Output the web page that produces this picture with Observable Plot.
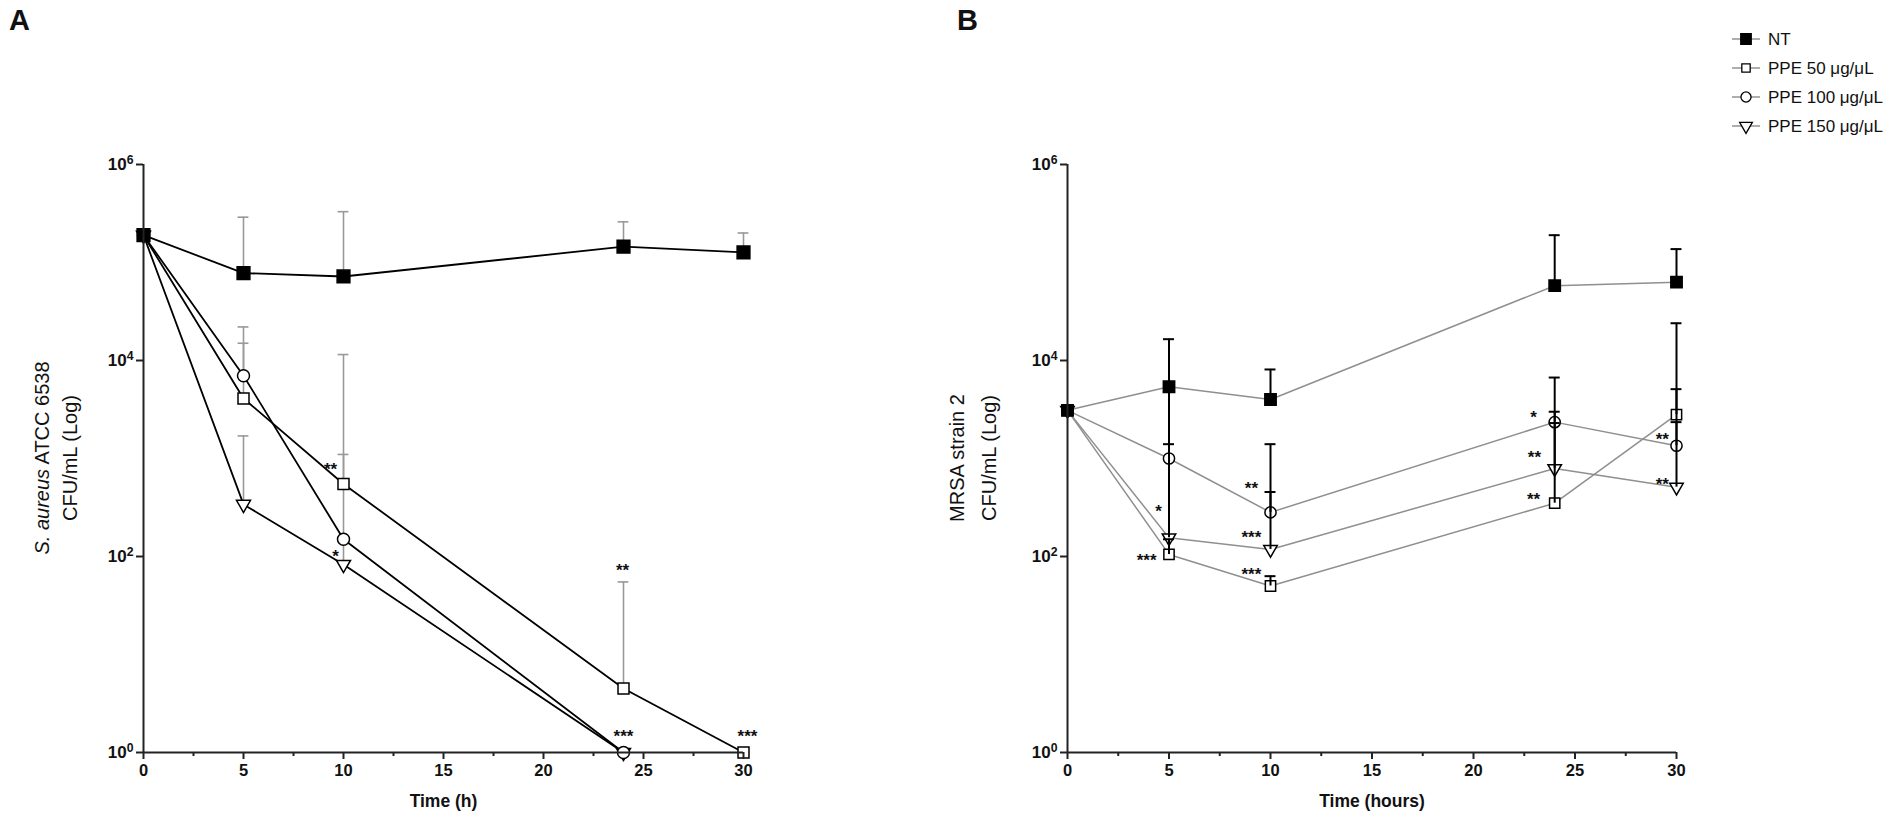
<!DOCTYPE html>
<html>
<head>
<meta charset="utf-8">
<script src="https://cdn.jsdelivr.net/npm/d3@7"></script>
<script src="https://cdn.jsdelivr.net/npm/@observablehq/plot@0.6"></script>
<style>
  html, body { margin: 0; padding: 0; background: #fff; }
  #wrap { position: relative; width: 1901px; height: 822px; overflow: hidden; font-family: "Liberation Sans", Arial, sans-serif; }
  .panel { position: absolute; top: 0; }
  .plabel { position: absolute; font-weight: bold; font-size: 29px; color: #111; }
  #legend { position: absolute; left: 1720px; top: 20px; }
</style>
</head>
<body>
<div id="wrap">
  <div class="plabel" style="left:9px;top:4px">A</div>
  <div class="plabel" style="left:957px;top:4px">B</div>
  <div class="panel" id="pA" style="left:0px"></div>
  <div class="panel" id="pB" style="left:920px"></div>
  <div id="legend"></div>
</div>
<script>
// ---------------- DATA ----------------
const seriesNames = ["NT", "PPE 50 μg/μL", "PPE 100 μg/μL", "PPE 150 μg/μL"];
const hours = [0, 5, 10, 24, 30];

// Panel A: S. aureus ATCC 6538 (CFU/mL)
const ntA        = [1.9e5, 7.8e4, 7.2e4, 1.45e5, 1.27e5];
const ntA_up     = [null, 2.9e5, 3.3e5, 2.6e5, 2.0e5];
const ppe50A     = [1.9e5, 4.1e3, 550, 4.5, 1];
const ppe50A_up  = [null, 1.5e4, 1.1e3, 55, null];
const ppe100A    = [1.9e5, 7.0e3, 150, 1, null];
const ppe100A_up = [null, 2.2e4, 1.15e4, null, null];
const ppe150A    = [1.9e5, 340, 83, 1, null];
const ppe150A_up = [null, 1.7e3, 150, null, null];

// Panel B: MRSA strain 2 (CFU/mL)
const ntB        = [3.1e3, 5.4e3, 4.0e3, 5.8e4, 6.3e4];
const ntB_up     = [null, 1.65e4, 8.1e3, 1.9e5, 1.37e5];
const ppe50B     = [3.1e3, 105, 50, 350, 2.8e3];
const ppe50B_up  = [null, 150, 63, 2.3e3, 2.4e4];
const ppe100B    = [3.1e3, 1.0e3, 282, 2.35e3, 1.35e3];
const ppe100B_up = [null, 5.2e3, 1.4e3, 6.7e3, 5.1e3];
const ppe150B    = [3.1e3, 155, 118, 790, 510];
const ppe150B_up = [null, 1.4e3, 455, 3.0e3, 2.35e3];

// significance labels (hour, CFU/mL, label)
const starsA_hour  = [9.35, 9.6, 23.95, 24.0, 30.2];
const starsA_value = [850, 110, 79, 1.6, 1.6];
const starsA_label = ["**", "*", "**", "***", "***"];
const starsB_hour  = [4.48, 3.9, 9.06, 9.06, 9.06, 22.96, 23.0, 22.96, 29.3, 29.3];
const starsB_value = [316, 100, 540, 171, 72, 2.9e3, 1.12e3, 420, 1.7e3, 600];
const starsB_label = ["*", "***", "**", "***", "***", "*", "**", "**", "**", "**"];

// axes
const yTicks = [1, 1e2, 1e4, 1e6];
const yTickLabels = ["10^0", "10^2", "10^4", "10^6"];
const xTicks = [0, 5, 10, 15, 20, 25, 30];
const xMinorTicks = [2.5, 7.5, 12.5, 17.5, 22.5, 27.5];
const xTitleA = "Time (h)";
const xTitleB = "Time (hours)";

// ---------------- BUILD ----------------
function rows(valueArrays, upArrays) {
  const out = [];
  seriesNames.forEach((s, k) => {
    hours.forEach((h, i) => {
      const v = valueArrays[k][i];
      if (v == null) return;
      out.push({series: s, k, hour: h, value: v, upper: upArrays[k][i]});
    });
  });
  return out;
}
function stars(hh, vv, ll) { return hh.map((h, i) => ({hour: h, value: vv[i], label: ll[i]})); }

const dataA = rows([ntA, ppe50A, ppe100A, ppe150A], [ntA_up, ppe50A_up, ppe100A_up, ppe150A_up]);
const dataB = rows([ntB, ppe50B, ppe100B, ppe150B], [ntB_up, ppe50B_up, ppe100B_up, ppe150B_up]);

const symbolOf = ["square", "square", "circle", "triangle"];
const fillOf = ["#000", "#fff", "#fff", "#fff"];

function dotMarks(data, sz) {
  // draw NT last so its filled square sits on top at t = 0
  return [3, 2, 1, 0].map(k => Plot.dot(data.filter(d => d.k === k), {
    x: "hour", y: "value", symbol: symbolOf[k],
    r: k === 0 ? sz.nt : (k === 1 ? sz.sq : (k === 2 ? sz.ci : sz.tri)),
    fill: fillOf[k], stroke: "#000", strokeWidth: 1.5, rotate: k === 3 ? 180 : 0
  }));
}

function makePanel(opts) {
  const {data, starData, lineColor, lineWidth, errColor, errWidth, errOnTop, width, marginLeft, marginRight, xTitle, sz} = opts;
  const errs = data.filter(d => d.upper != null);
  const errMarks = [
    Plot.ruleX(errs, {x: "hour", y1: "value", y2: "upper", stroke: errColor, strokeWidth: errWidth}),
    Plot.ruleY(errs, {y: "upper", x1: d => d.hour - 0.27, x2: d => d.hour + 0.27, stroke: errColor, strokeWidth: errWidth})
  ];
  const marks = [
    Plot.line(data, {x: "hour", y: "value", z: "series", stroke: lineColor, strokeWidth: lineWidth}),
    ...(errOnTop ? [] : errMarks),
    ...dotMarks(data, sz),
    ...(errOnTop ? errMarks : []),
    Plot.text(starData, {x: "hour", y: "value", text: "label", fontSize: 17, fontWeight: "bold", dy: 4, fill: "#111"}),
    Plot.ruleX([0], {stroke: "#222", strokeWidth: 2}),
    Plot.ruleY([1], {stroke: "#222", strokeWidth: 2}),
    Plot.axisY({ticks: yTicks, tickFormat: d => yTickLabels[yTicks.indexOf(d)], tickSize: 7, tickPadding: 3,
                stroke: "#222", strokeWidth: 2, fontSize: 17, fontWeight: "bold", fill: "#111", label: null}),
    Plot.axisX({ticks: xTicks, tickSize: 7, tickPadding: 5, stroke: "#222", strokeWidth: 2,
                fontSize: 16.5, fontWeight: "bold", fill: "#111", label: null}),
    Plot.axisX({ticks: xMinorTicks, tickSize: 4, text: null, stroke: "#222", strokeWidth: 2, label: null}),
    Plot.text([xTitle], {frameAnchor: "bottom", dy: 49, fontSize: 17.5, fontWeight: "bold", fill: "#111", lineAnchor: "middle"})
  ];
  const svg = Plot.plot({
    width, height: 822, marginLeft, marginRight, marginTop: 164, marginBottom: 70,
    x: {domain: [0, 30], label: null},
    y: {type: "log", domain: [1, 1e6], label: null},
    style: {fontFamily: '"Liberation Sans", Arial, sans-serif', background: "transparent", overflow: "visible"},
    marks
  });
  // turn "10^n" tick labels into a base with a superscript exponent
  d3.select(svg).selectAll('g[aria-label="y-axis tick label"] text').each(function() {
    const s = this.textContent;
    const [base, exp] = s.split("^");
    const t = d3.select(this);
    t.text(null);
    t.append("tspan").text(base);
    t.append("tspan").attr("dy", "-0.45em").attr("font-size", "0.72em").text(exp);
  });
  return svg;
}

const svgA = makePanel({
  data: dataA, starData: stars(starsA_hour, starsA_value, starsA_label),
  lineColor: "#000", lineWidth: 1.8, errColor: "#999", errWidth: 1.6, errOnTop: false,
  width: 900, marginLeft: 143, marginRight: 157, xTitle: xTitleA,
  sz: {nt: 7.2, sq: 6.2, ci: 6.0, tri: 5.2}
});
const svgB = makePanel({
  data: dataB, starData: stars(starsB_hour, starsB_value, starsB_label),
  lineColor: "#8f8f8f", lineWidth: 1.5, errColor: "#000", errWidth: 2, errOnTop: true,
  width: 981, marginLeft: 147, marginRight: 225, xTitle: xTitleB,
  sz: {nt: 6.4, sq: 5.8, ci: 5.6, tri: 5.0}
});

function yTitle(svg, x1, x2, line1Parts, line2) {
  const g = d3.select(svg).append("g").attr("font-size", 20).attr("fill", "#111")
    .attr("font-family", '"Liberation Sans", Arial, sans-serif').attr("text-anchor", "middle");
  const t1 = g.append("text").attr("transform", `translate(${x1},458) rotate(-90)`).attr("dominant-baseline", "central");
  line1Parts.forEach(p => t1.append("tspan").attr("font-style", p.italic ? "italic" : "normal").text(p.text));
  g.append("text").attr("transform", `translate(${x2},458) rotate(-90)`).attr("dominant-baseline", "central").text(line2);
}
yTitle(svgA, 42, 70, [{text: "S. aureus", italic: true}, {text: " ATCC 6538"}], "CFU/mL (Log)");
yTitle(svgB, 37, 69, [{text: "MRSA strain 2"}], "CFU/mL (Log)");

document.getElementById("pA").appendChild(svgA);
document.getElementById("pB").appendChild(svgB);

// legend
const lg = d3.select("#legend").append("svg").attr("width", 181).attr("height", 125)
  .attr("font-family", '"Liberation Sans", Arial, sans-serif');
seriesNames.forEach((s, k) => {
  const y = 19 + k * 29;
  const row = lg.append("g").attr("transform", `translate(0,${y})`);
  row.append("line").attr("x1", 12).attr("x2", 40).attr("stroke", "#777").attr("stroke-width", 1.2);
  const sym = k === 3 ? d3.symbolTriangle : (k === 2 ? d3.symbolCircle : d3.symbolSquare);
  const size = k === 0 ? 110 : (k === 2 ? 80 : 70);
  row.append("path").attr("d", d3.symbol(sym, size)()).attr("transform", `translate(26,0) rotate(${k === 3 ? 180 : 0})`)
    .attr("fill", fillOf[k]).attr("stroke", "#000").attr("stroke-width", 1.3);
  row.append("text").attr("x", 48).attr("dy", "0.36em").attr("font-size", 17).attr("fill", "#111").text(s);
});
</script>
</body>
</html>
